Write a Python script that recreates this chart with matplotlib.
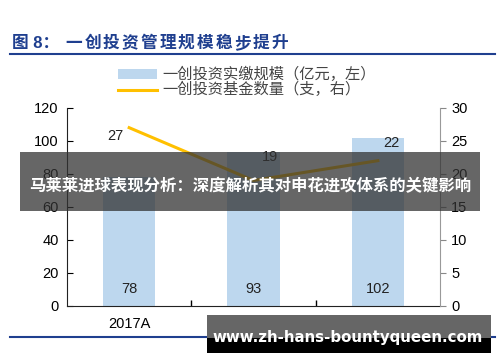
import matplotlib
matplotlib.use("Agg")
import matplotlib.pyplot as plt
from matplotlib.patches import Rectangle
from matplotlib.lines import Line2D

plt.rcParams['font.family'] = ['Liberation Sans', 'Noto Sans CJK SC']

years = ['2017A', '2018A', '2019A']
scale = [78, 93, 102]        # 亿元, left axis
funds = [27, 19, 22]         # 支, right axis
bar_label = '一创投资实缴规模（亿元，左）'
line_label = '一创投资基金数量（支，右）'
title_head = '图 8：'
title = '一创投资管理规模稳步提升'
banner = '马莱莱进球表现分析：深度解析其对申花进攻体系的关键影响'
watermark = 'www.zh-hans-bountyqueen.com'

bar_color = '#BDD7EE'
line_color = '#FFC000'
navy = '#1F3F8F'

fig = plt.figure(figsize=(5, 3.62), dpi=100)
ax = fig.add_axes([0.134, 0.155, 0.746, 0.547])
ax2 = ax.twinx()

x = list(range(len(years)))
ax.bar(x, scale, width=0.42, color=bar_color, zorder=1)
for xi, v in zip(x, scale):
    ax.text(xi, 10.3, str(v), ha='center', va='center', fontsize=10.5, color='#222222')

ax2.plot(x, funds, color=line_color, lw=2.2)
offsets = [(-0.11, -1.2), (0.13, 3.5), (0.11, 2.7)]
for xi, v, (dx, dy) in zip(x, funds, offsets):
    ax2.text(xi + dx, v + dy, str(v), ha='center', va='center', fontsize=10.5, color='#222222')

ax.set_xlim(-0.5, 2.5)
ax.set_ylim(0, 120)
ax2.set_ylim(0, 30)
ax.set_yticks(range(0, 121, 20))
ax2.set_yticks(range(0, 31, 5))
ax.set_xticks(x)
ax.set_xticklabels(years)
ax.set_xticks([0.5, 1.5], minor=True)
ax.tick_params(axis='x', which='major', length=0, labelsize=10.5, pad=8)
ax.tick_params(axis='x', which='minor', length=4, direction='in', width=1)
ax.tick_params(axis='y', direction='in', length=4, labelsize=10.5, pad=6)
ax2.tick_params(axis='y', direction='out', length=4, labelsize=10.5, color='#888888', pad=4)

for a in (ax, ax2):
    a.spines['top'].set_visible(False)
ax.spines['right'].set_visible(False)
ax2.spines['left'].set_visible(False)
ax2.spines['bottom'].set_visible(False)
ax.spines['left'].set_color('#222222')
ax.spines['bottom'].set_color('#222222')
ax2.spines['right'].set_color('#999999')

# title (wide letter spacing) and rules
fig.text(0.024, 0.881, title_head, fontsize=12, fontweight='bold', color=navy, va='center')
for i, ch in enumerate(title):
    fig.text(0.131 + i * 0.0375, 0.881, ch, fontsize=12, fontweight='bold', color=navy, va='center')
fig.add_artist(Line2D([0.02, 0.99], [0.851, 0.851], color=navy, lw=1.5))
fig.add_artist(Line2D([0.02, 0.99], [0.070, 0.070], color=navy, lw=1.5))

# legend
fig.add_artist(Rectangle((0.236, 0.782), 0.078, 0.027, color=bar_color, lw=0))
fig.text(0.324, 0.795, bar_label, fontsize=11, color='#444444', va='center')
fig.add_artist(Line2D([0.236, 0.314], [0.752, 0.752], color=line_color, lw=2.2))
fig.text(0.324, 0.752, line_label, fontsize=11, color='#444444', va='center')

# overlay banner
fig.add_artist(Rectangle((0.04, 0.417), 0.92, 0.163, color='#333333', alpha=0.75, lw=0, zorder=5))
fig.text(0.5, 0.487, banner, fontsize=11.8, fontweight='bold', color='white',
         ha='center', va='center', zorder=6)

# watermark
fig.add_artist(Rectangle((0.414, 0.066), 0.568, 0.064, color='#666666', lw=0, zorder=5))
fig.add_artist(Rectangle((0.414, 0.025), 0.568, 0.042, color='black', lw=0, zorder=5))
fig.text(0.695, 0.069, watermark, fontsize=10.8, fontweight='bold', color='white',
         family='DejaVu Sans', ha='center', va='center', zorder=6)

fig.savefig('out.png', dpi=100)
